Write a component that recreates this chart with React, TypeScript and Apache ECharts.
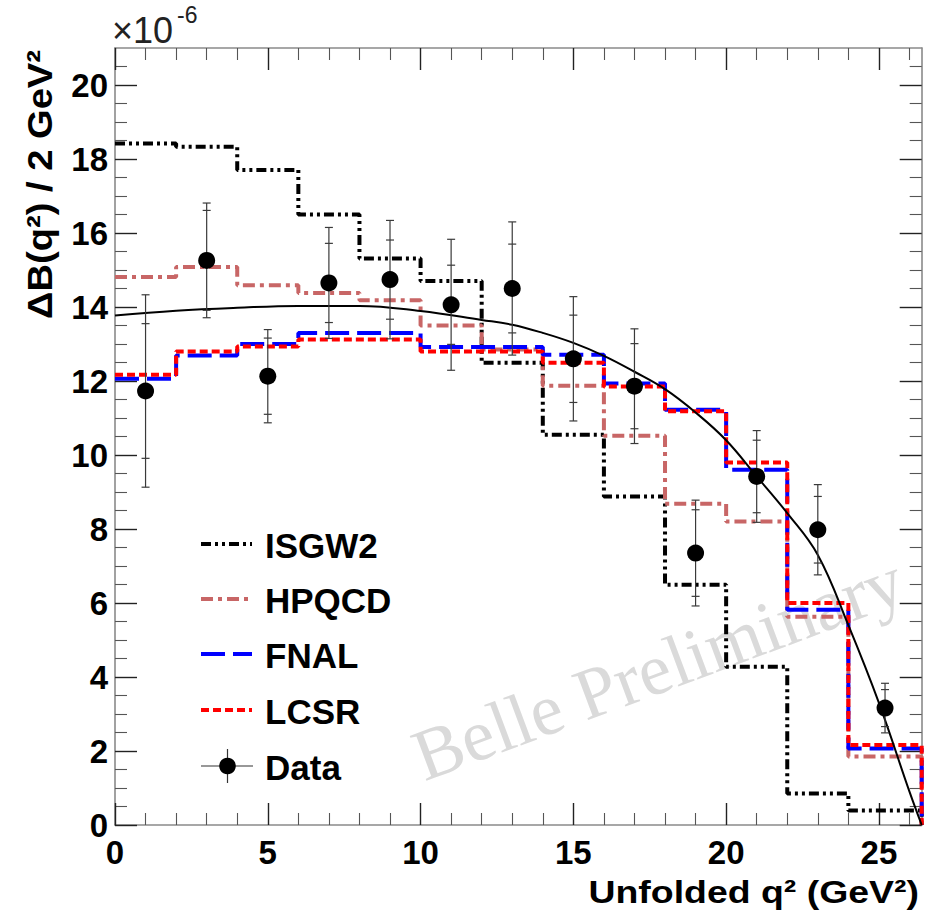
import React, { useEffect, useRef } from "react";
import * as echarts from "echarts";

// ---------- data ----------
const binEdges = [0, 2, 4, 6, 8, 10, 12, 14, 16, 18, 20, 22, 24, 26.4];
const isgw2 = [18.42, 18.33, 17.7, 16.5, 15.31, 14.7, 12.49, 10.55, 8.88, 6.49, 4.28, 0.85, 0.39];
const hpqcd = [14.81, 15.08, 14.59, 14.38, 14.18, 13.5, 12.85, 11.87, 10.52, 8.68, 8.2, 5.63, 1.85];
const fnal = [12.06, 12.69, 13.0, 13.3, 13.3, 12.92, 12.92, 12.71, 11.93, 11.22, 9.6, 5.82, 2.07];
const lcsr = [12.17, 12.8, 12.93, 13.12, 13.12, 12.8, 12.8, 12.49, 11.85, 11.18, 9.8, 6.0, 2.16];

const dataX = [1, 3, 5, 7, 9, 11, 13, 15, 17, 19, 21, 23, 25.2];
const dataY = [11.73, 15.26, 12.13, 14.65, 14.74, 14.06, 14.5, 12.6, 11.86, 7.35, 9.42, 7.98, 3.16];
const statErr = [1.82, 1.35, 1.03, 1.07, 1.07, 1.07, 1.2, 1.18, 1.15, 1.17, 0.98, 0.9, 0.5];
const totErr = [2.6, 1.55, 1.26, 1.5, 1.6, 1.77, 1.8, 1.68, 1.55, 1.43, 1.24, 1.22, 0.67];

const fitX = [0, 2, 4, 6, 8, 10, 12, 13, 14, 15, 16, 17, 18, 19, 20, 21, 22, 23, 24, 25, 26, 26.4];
const fitY = [13.77, 13.9, 13.98, 14.03, 14.03, 13.89, 13.65, 13.52, 13.3, 13.03, 12.68, 12.25, 11.78, 11.15, 10.4, 9.42, 8.43, 7.3, 5.4, 3.3, 0.9, 0.0];

const xMajorTicks = [0, 5, 10, 15, 20, 25];
const xMinorTicks = [1, 2, 3, 4, 6, 7, 8, 9, 11, 12, 13, 14, 16, 17, 18, 19, 21, 22, 23, 24, 26];
const yMajorTicks = [0, 2, 4, 6, 8, 10, 12, 14, 16, 18, 20];
const yMinorTicks = [0.5, 1, 1.5, 2.5, 3, 3.5, 4.5, 5, 5.5, 6.5, 7, 7.5, 8.5, 9, 9.5, 10.5, 11, 11.5, 12.5, 13, 13.5, 14.5, 15, 15.5, 16.5, 17, 17.5, 18.5, 19, 19.5, 20.5];

const legendNames = ["ISGW2", "HPQCD", "FNAL", "LCSR", "Data"];

const FONT = "'Liberation Sans', Arial, Helvetica, sans-serif";
const C_ISGW2 = "#000000";
const C_HPQCD = "#c86666";
const C_FNAL = "#0000ff";
const C_LCSR = "#ff0000";
const D_ISGW2 = [10, 4, 3, 4, 3, 4];
const D_HPQCD = [12, 5, 4, 5];
const D_FNAL = [24, 8];
const D_LCSR = [8, 4];

function stepPoints(vals: number[]) {
  const pts: number[][] = [];
  vals.forEach((v, i) => {
    pts.push([binEdges[i], v]);
    pts.push([binEdges[i + 1], v]);
  });
  pts.push([binEdges[binEdges.length - 1], 0]);
  return pts;
}

function histSeries(name: string, vals: number[], color: string, dash: number[], z: number) {
  return {
    name,
    type: "line",
    xAxisIndex: 0,
    yAxisIndex: 0,
    data: stepPoints(vals),
    symbol: "none",
    showSymbol: false,
    silent: true,
    z,
    lineStyle: { color, width: 4, type: dash },
  };
}

export default function App() {
  const ref = useRef<HTMLDivElement>(null);
  useEffect(() => {
    document.body.style.margin = "0";
    if (!ref.current) return;
    const chart = echarts.init(ref.current, undefined, { renderer: "svg" });

    const xMin = binEdges[0];
    const xMax = binEdges[binEdges.length - 1];
    const yMin = 0;
    const yMax = 21;

    const frame = { show: true, onZero: false, lineStyle: { color: "#8a8a8a", width: 1.6 } };
    const noLine = { show: false, onZero: false };
    const majTick = (vals: number[]) => ({ show: true, inside: true, length: 22, customValues: vals, lineStyle: { color: "#222", width: 1.4 } });
    const minTick = (vals: number[]) => ({ show: true, inside: true, length: 12, customValues: vals, lineStyle: { color: "#555", width: 1.1 } });
    const noLabel = { show: false };
    const baseX = { type: "value", min: xMin, max: xMax, splitLine: { show: false } };
    const baseY = { type: "value", min: yMin, max: yMax, splitLine: { show: false } };

    const legendYs = [544, 599, 654, 710, 766];
    const legendDash = [D_ISGW2, D_HPQCD, D_FNAL, D_LCSR];
    const legendCol = [C_ISGW2, C_HPQCD, C_FNAL, C_LCSR];
    const legendGraphics: any[] = [];
    legendNames.forEach((n, i) => {
      const y = legendYs[i];
      if (i < 4) {
        legendGraphics.push({
          type: "line",
          shape: { x1: 201, y1: y, x2: 252, y2: y },
          style: { stroke: legendCol[i], lineWidth: 4, lineDash: legendDash[i] },
        });
      } else {
        legendGraphics.push({ type: "line", shape: { x1: 201, y1: y, x2: 253, y2: y }, style: { stroke: "#333", lineWidth: 1.2 } });
        legendGraphics.push({ type: "line", shape: { x1: 227.5, y1: y - 17, x2: 227.5, y2: y + 17 }, style: { stroke: "#333", lineWidth: 1.2 } });
        legendGraphics.push({ type: "circle", shape: { cx: 227.5, cy: y, r: 8.3 }, style: { fill: "#000" } });
      }
      legendGraphics.push({
        type: "text",
        x: 265,
        y: y + 1,
        style: { text: n, font: `bold 35px ${FONT}`, fill: "#000", align: "left", verticalAlign: "middle" },
      });
    });

    const option: any = {
      animation: false,
      backgroundColor: "#ffffff",
      grid: { left: 115, top: 48, right: 3.3, bottom: 88, containLabel: false, outerBoundsMode: "none" },
      xAxis: [
        {
          ...baseX,
          position: "bottom",
          axisLine: frame,
          axisTick: majTick(xMajorTicks),
          axisLabel: {
            show: true,
            customValues: xMajorTicks,
            margin: 11,
            fontSize: 33,
            fontWeight: "bold",
            fontFamily: FONT,
            color: "#000",
          },
        },
        { ...baseX, position: "bottom", axisLine: noLine, axisTick: minTick(xMinorTicks), axisLabel: noLabel },
        { ...baseX, position: "top", axisLine: frame, axisTick: majTick(xMajorTicks), axisLabel: noLabel },
        { ...baseX, position: "top", axisLine: noLine, axisTick: minTick(xMinorTicks), axisLabel: noLabel },
      ],
      yAxis: [
        {
          ...baseY,
          position: "left",
          axisLine: frame,
          axisTick: majTick(yMajorTicks),
          axisLabel: {
            show: true,
            customValues: yMajorTicks,
            margin: 7,
            fontSize: 33,
            fontWeight: "bold",
            fontFamily: FONT,
            color: "#000",
          },
        },
        { ...baseY, position: "left", axisLine: noLine, axisTick: minTick(yMinorTicks), axisLabel: noLabel },
        { ...baseY, position: "right", axisLine: frame, axisTick: majTick(yMajorTicks), axisLabel: noLabel },
        { ...baseY, position: "right", axisLine: noLine, axisTick: minTick(yMinorTicks), axisLabel: noLabel },
      ],
      series: [
        histSeries("ISGW2", isgw2, C_ISGW2, D_ISGW2, 2),
        histSeries("HPQCD", hpqcd, C_HPQCD, D_HPQCD, 3),
        histSeries("FNAL", fnal, C_FNAL, D_FNAL, 4),
        histSeries("LCSR", lcsr, C_LCSR, D_LCSR, 5),
        {
          name: "Fit",
          type: "line",
          xAxisIndex: 0,
          yAxisIndex: 0,
          data: fitX.map((x, i) => [x, fitY[i]]),
          smooth: 0.4,
          symbol: "none",
          showSymbol: false,
          silent: true,
          z: 6,
          lineStyle: { color: "#000", width: 2 },
        },
        {
          name: "Data errors",
          type: "custom",
          xAxisIndex: 0,
          yAxisIndex: 0,
          z: 7,
          silent: true,
          data: dataX.map((x, i) => [x, dataY[i], statErr[i], totErr[i]]),
          encode: { x: 0, y: 1 },
          renderItem: (params: any, api: any) => {
            const x = api.value(0);
            const y = api.value(1);
            const s = api.value(2);
            const t = api.value(3);
            const c = api.coord([x, y]);
            const top = api.coord([x, y + t])[1];
            const bot = api.coord([x, y - t])[1];
            const sTop = api.coord([x, y + s])[1];
            const sBot = api.coord([x, y - s])[1];
            const style = { stroke: "#3a3a3a", lineWidth: 1.2 };
            const hw = 4;
            const seg = (x1: number, y1: number, x2: number, y2: number) => ({ type: "line", shape: { x1, y1, x2, y2 }, style });
            return {
              type: "group",
              children: [
                seg(c[0], top, c[0], bot),
                seg(c[0] - hw, top, c[0] + hw, top),
                seg(c[0] - hw, bot, c[0] + hw, bot),
                seg(c[0] - hw, sTop, c[0] + hw, sTop),
                seg(c[0] - hw, sBot, c[0] + hw, sBot),
              ],
            };
          },
        },
        {
          name: "Data",
          type: "scatter",
          xAxisIndex: 0,
          yAxisIndex: 0,
          z: 8,
          silent: true,
          symbol: "circle",
          symbolSize: 17,
          itemStyle: { color: "#000", opacity: 1 },
          data: dataX.map((x, i) => [x, dataY[i]]),
        },
      ],
      graphic: [
        {
          type: "text",
          x: 658,
          y: 668,
          rotation: (20.5 * Math.PI) / 180,
          z: 1,
          silent: true,
          style: {
            text: "Belle Preliminary",
            font: "normal 73px 'Liberation Serif', 'Times New Roman', serif",
            fill: "#dadada",
            align: "center",
            verticalAlign: "middle",
          },
        },
        {
          type: "text",
          x: 112,
          y: 30,
          style: { text: "×10", font: `normal 36px ${FONT}`, fill: "#222", align: "left", verticalAlign: "middle" },
        },
        {
          type: "text",
          x: 177,
          y: 15,
          style: { text: "-6", font: `normal 23px ${FONT}`, fill: "#222", align: "left", verticalAlign: "middle" },
        },
        {
          type: "text",
          x: 40,
          y: 50,
          rotation: Math.PI / 2,
          scaleX: 1.09,
          style: { text: "ΔB(q²) / 2 GeV²", font: `bold 35px ${FONT}`, fill: "#000", align: "right", verticalAlign: "middle" },
        },
        {
          type: "text",
          x: 919,
          y: 892,
          scaleX: 1.17,
          style: { text: "Unfolded q² (GeV²)", font: `bold 32px ${FONT}`, fill: "#000", align: "right", verticalAlign: "middle" },
        },
        ...legendGraphics,
      ],
    };
    chart.setOption(option);
    return () => chart.dispose();
  }, []);

  return <div ref={ref} style={{ position: "absolute", left: 0, top: 0, width: 925, height: 913 }} />;
}
